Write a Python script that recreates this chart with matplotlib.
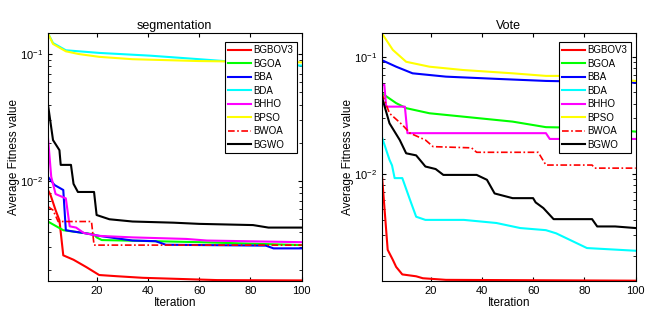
import matplotlib.pyplot as plt
from matplotlib.ticker import LogLocator, NullFormatter

plt.rcParams['font.family'] = ['Liberation Sans', 'DejaVu Sans']
plt.rcParams['mathtext.default'] = 'regular'

names = ['BGBOV3', 'BGOA', 'BBA', 'BDA', 'BHHO', 'BPSO', 'BWOA', 'BGWO']
colors = ['#ff0000', '#00ff00', '#0000ff', '#00ffff', '#ff00ff', '#ffff00', '#ff0000', '#000000']
styles = ['-', '-', '-', '-', '-', '-', (0, (4, 1.5, 1, 1.5)), '-']

# segmentation: breakpoints (iteration, average fitness)
seg_it = [
    [1, 2, 4, 5.5, 7, 11, 16, 21, 28, 38, 67, 100],
    [1, 7, 15, 19, 20, 22, 34, 60, 100],
    [1, 3.6, 7, 8, 11, 15, 21, 34, 43, 47, 86, 89, 100],
    [1, 3, 8, 21, 41, 60, 73, 86, 100],
    [1, 2.3, 4, 8, 9.5, 12, 15, 21, 34, 55, 63, 100],
    [1, 3, 8, 13, 21, 34, 60, 100],
    [1, 3, 5, 18, 19, 100],
    [1, 3, 5.5, 6, 10, 11, 12.7, 19, 20, 25, 34, 50, 60, 81, 87, 100],
]
seg_val = [
    [0.0085, 0.0078, 0.0059, 0.0049, 0.0026, 0.0024, 0.0021, 0.00182, 0.00178, 0.00173, 0.00166, 0.00165],
    [0.0048, 0.0041, 0.0039, 0.0038, 0.0036, 0.00343, 0.00339, 0.0033, 0.00313],
    [0.0108, 0.0093, 0.0085, 0.0041, 0.0040, 0.0039, 0.0037, 0.0034, 0.00336, 0.00315, 0.0031, 0.00295, 0.00295],
    [0.146, 0.122, 0.107, 0.102, 0.097, 0.091, 0.087, 0.084, 0.081],
    [0.0224, 0.0108, 0.0079, 0.0073, 0.0044, 0.0043, 0.0039, 0.0037, 0.0036, 0.0035, 0.0034, 0.0033],
    [0.146, 0.12, 0.105, 0.1, 0.095, 0.091, 0.088, 0.086],
    [0.0063, 0.0059, 0.0048, 0.0048, 0.00313, 0.00313],
    [0.0404, 0.021, 0.0175, 0.0134, 0.0134, 0.0095, 0.0082, 0.0082, 0.0054, 0.0050, 0.0048, 0.0047, 0.0046, 0.0045, 0.0043, 0.0043],
]

# Vote
vote_it = [
    [1, 3.3, 5.3, 6.6, 9, 14.4, 17, 26, 100],
    [1, 6.6, 10.5, 19.6, 32.6, 52, 65, 78, 100],
    [1, 6.6, 13, 26, 45.7, 65, 100],
    [1, 4, 5, 6, 9, 12, 14.4, 18, 33, 45.7, 55, 65, 69, 81, 100],
    [1, 2, 2.7, 10, 11, 65, 66.5, 100],
    [1, 5.3, 10.5, 19.6, 32.6, 52, 65, 72, 100],
    [1, 4, 9, 12, 18, 21, 36, 38, 62, 65, 83, 84, 100],
    [1, 4, 8, 10.5, 14.4, 17, 18, 22, 25, 38, 42, 45, 52, 60, 61, 64, 68, 83, 85, 92, 100],
]
vote_val = [
    [0.0101, 0.00224, 0.00184, 0.0016, 0.00138, 0.00133, 0.00128, 0.00124, 0.00122],
    [0.049, 0.0403, 0.0365, 0.033, 0.0309, 0.028, 0.0251, 0.0248, 0.023],
    [0.094, 0.0826, 0.0725, 0.0679, 0.065, 0.0624, 0.0603],
    [0.0208, 0.0132, 0.0118, 0.0092, 0.0092, 0.006, 0.0043, 0.00404, 0.00404, 0.0038, 0.00344, 0.0033, 0.0031, 0.00232, 0.0022],
    [0.0577, 0.0577, 0.0376, 0.0376, 0.0223, 0.0223, 0.0199, 0.0199],
    [0.16, 0.115, 0.091, 0.0826, 0.0774, 0.0725, 0.0689, 0.0689, 0.0624],
    [0.049, 0.033, 0.0263, 0.0223, 0.0195, 0.0171, 0.0167, 0.0153, 0.0153, 0.0119, 0.0119, 0.0112, 0.0112],
    [0.0458, 0.0271, 0.0195, 0.015, 0.0144, 0.0123, 0.01156, 0.011, 0.0098, 0.0098, 0.0089, 0.0068, 0.0062, 0.0062, 0.0057, 0.0051, 0.0041, 0.0041, 0.00355, 0.00355, 0.00344],
]

fig = plt.figure(figsize=(6.56, 3.28), dpi=100)
ax1 = fig.add_axes([0.073, 0.143, 0.387, 0.756])
ax2 = fig.add_axes([0.582, 0.143, 0.387, 0.756])


def draw(ax, its, vals, title, ylim):
    for i in range(len(names)):
        lw = 1.2 if names[i] == 'BWOA' else 1.5
        ax.plot(its[i], vals[i], color=colors[i], linestyle=styles[i], lw=lw, label=names[i])
    ax.set_yscale('log')
    ax.set_xlim(1, 100)
    ax.set_ylim(*ylim)
    ax.set_xticks([20, 40, 60, 80, 100])
    ax.yaxis.set_major_locator(LogLocator(base=10))
    ax.yaxis.set_minor_locator(LogLocator(base=10, subs=range(2, 10)))
    ax.yaxis.set_minor_formatter(NullFormatter())
    ax.tick_params(which='both', direction='in', top=True, right=True, labelsize=8)
    ax.tick_params(which='major', length=3)
    ax.tick_params(which='minor', length=2)
    ax.set_title(title, fontsize=9, pad=3)
    ax.set_xlabel('Iteration', fontsize=8.5, labelpad=1)
    ax.set_ylabel('Average Fitness value', fontsize=8.5)
    ax.yaxis.set_label_coords(-0.108, 0.5)
    leg = ax.legend(loc='upper right', bbox_to_anchor=(0.98, 0.965), fontsize=7,
                    fancybox=False, framealpha=1, edgecolor='black',
                    handlelength=2.4, labelspacing=0.36, borderpad=0.35,
                    handletextpad=0.2, borderaxespad=0)
    leg.get_frame().set_linewidth(0.8)


draw(ax1, seg_it, seg_val, 'segmentation', (0.00163, 0.146))
draw(ax2, vote_it, vote_val, 'Vote', (0.00121, 0.16))

fig.savefig('out.png', dpi=100)
